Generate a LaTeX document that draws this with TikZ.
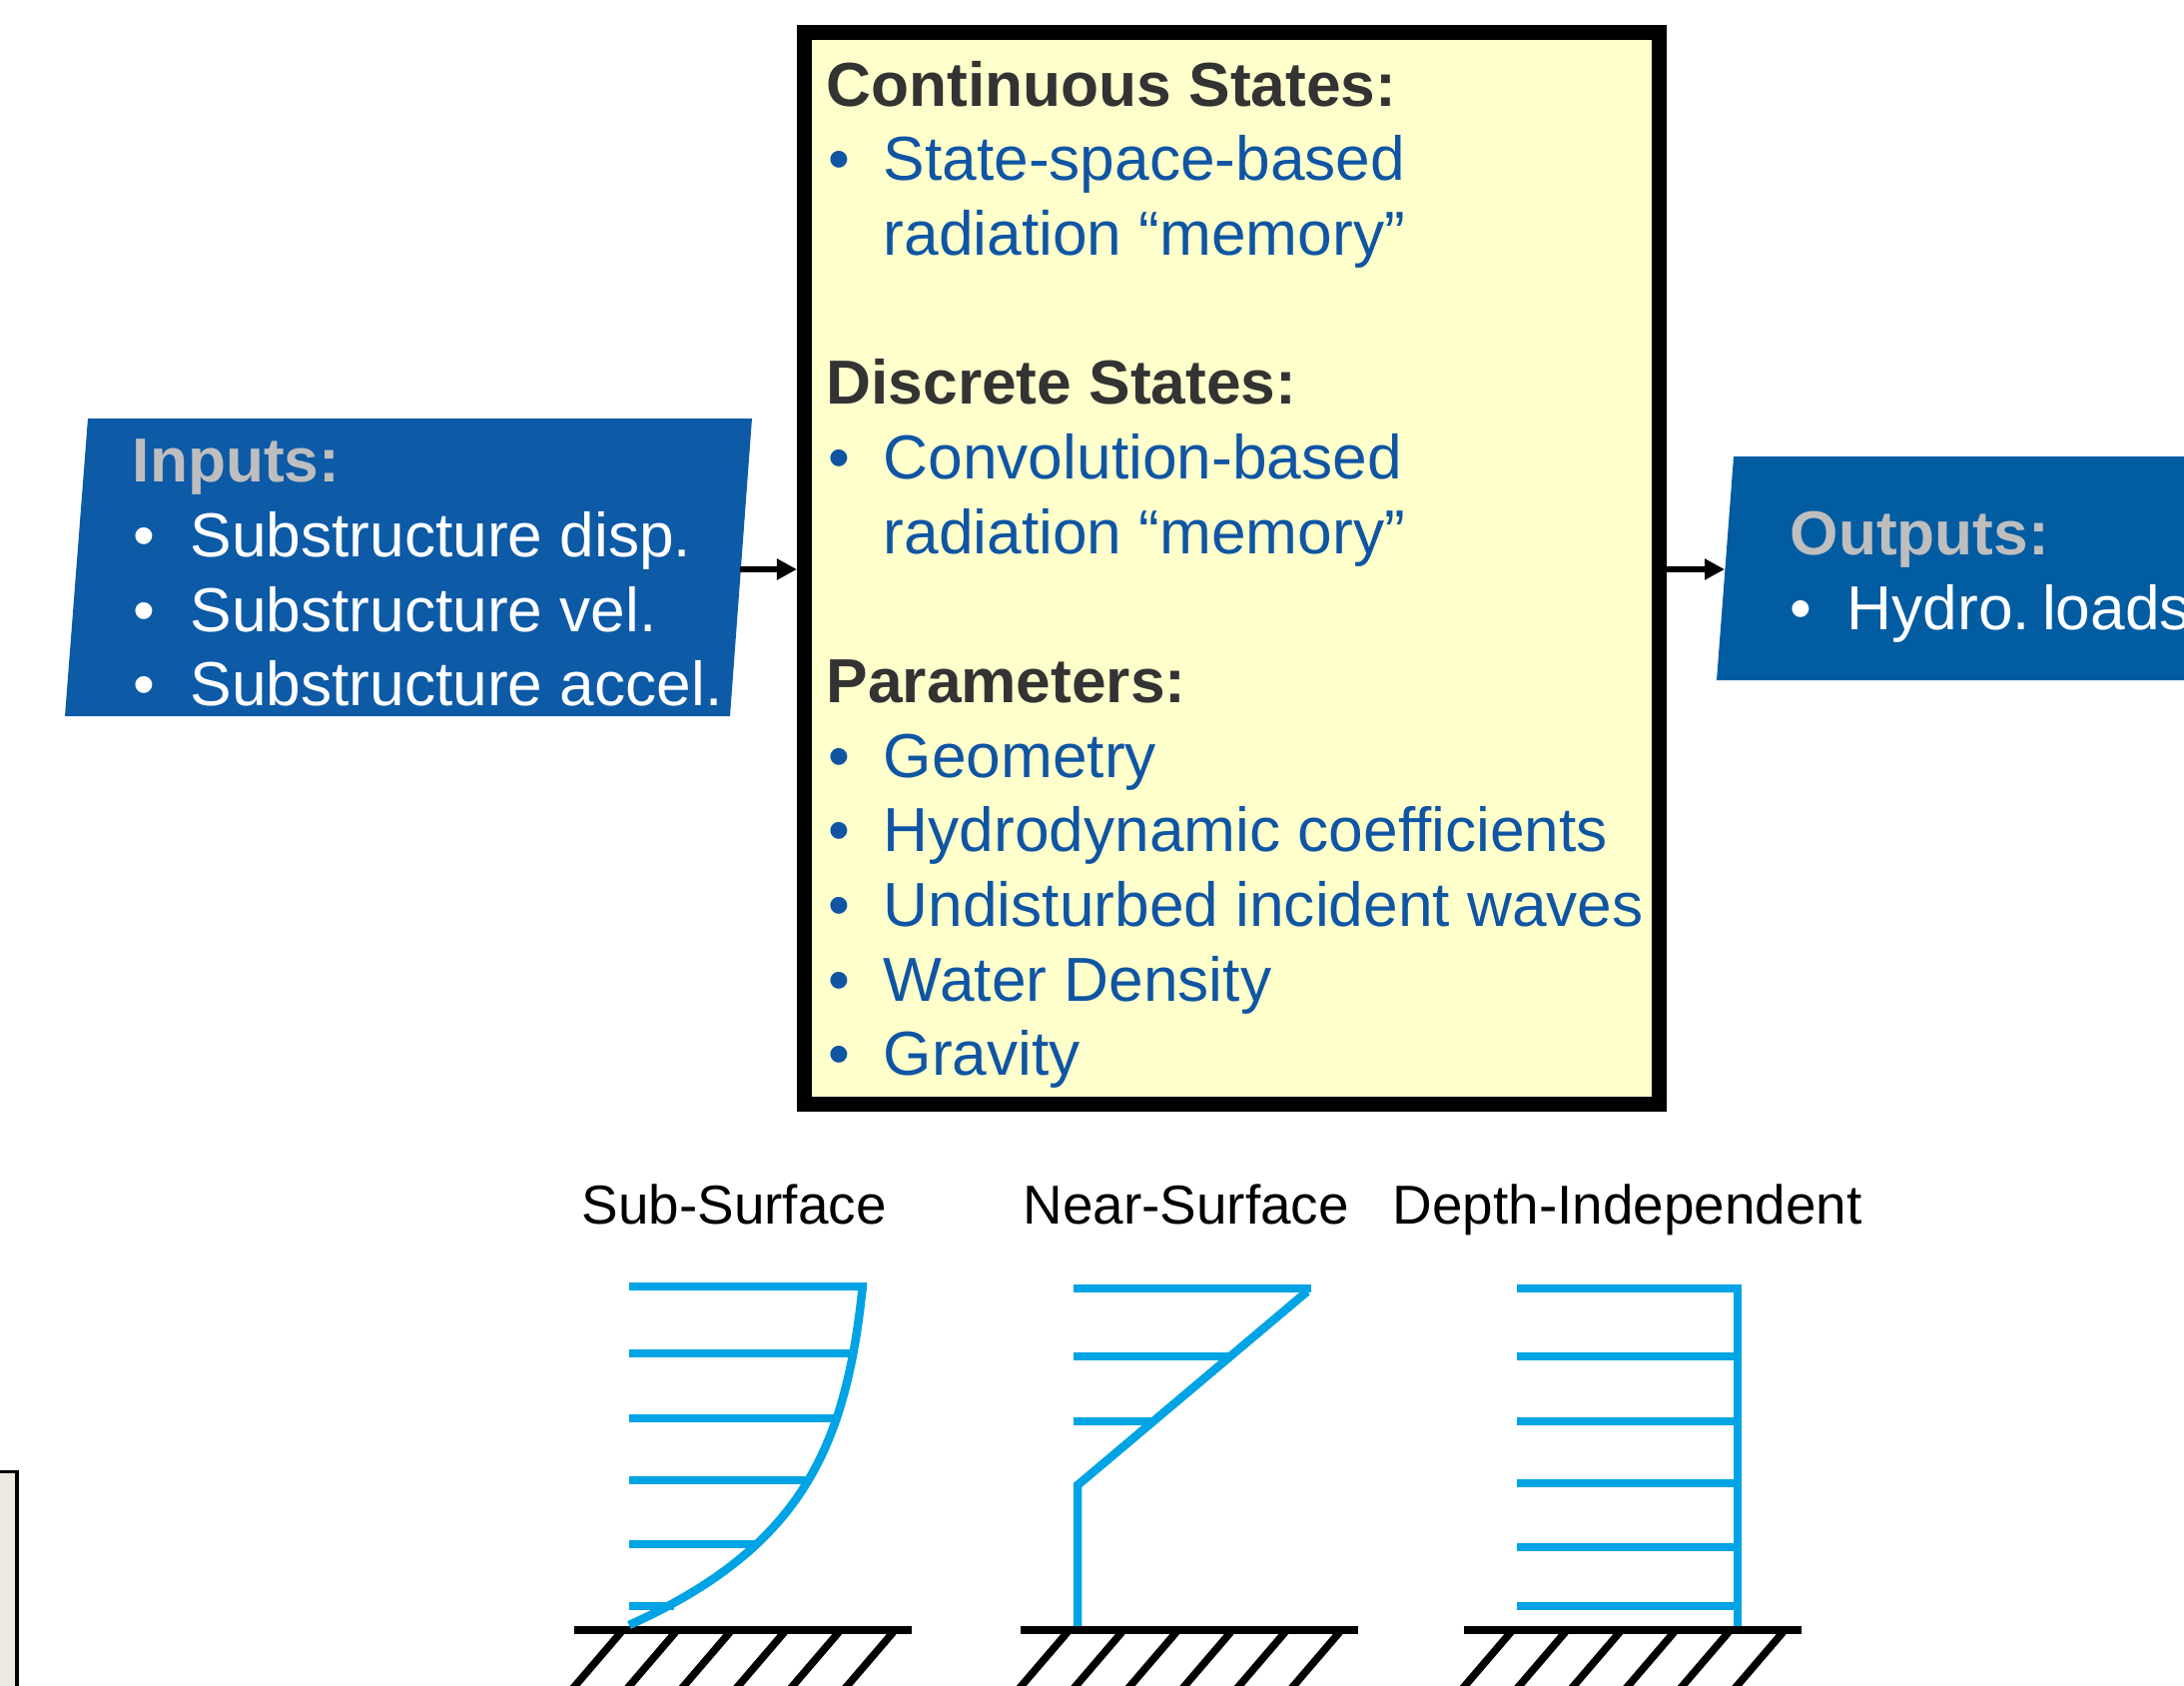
\documentclass[tikz,border=0pt]{standalone}
\usepackage{fontspec}
\setmainfont{Liberation Sans}
\usetikzlibrary{arrows.meta}
\definecolor{inblue}{HTML}{0D5AA7}
\definecolor{outblue}{HTML}{025CA2}
\definecolor{headgray}{HTML}{BEBEBE}
\definecolor{darkhead}{HTML}{333333}
\definecolor{itemblue}{HTML}{0F55A3}
\definecolor{boxyellow}{HTML}{FFFFCC}
\definecolor{profblue}{HTML}{00A3E4}
\definecolor{beige}{HTML}{EDEBE1}
\begin{document}
\begin{tikzpicture}[x=0.01cm,y=-0.01cm,
  txt/.style={inner sep=0pt, anchor=base west, font=\fontsize{17.7}{21}\selectfont},
  head/.style={txt, font=\fontsize{17.7}{21}\selectfont\bfseries, text=darkhead},
  ghead/.style={head, text=headgray},
  item/.style={txt, text=itemblue},
  wtxt/.style={txt, text=white},
  lbl/.style={inner sep=0pt, anchor=base west, font=\fontsize{15.6}{19}\selectfont},
  prof/.style={draw=profblue, line width=0.085cm},
  ground/.style={line width=0.085cm},
  hatch/.style={line width=0.075cm},
  arr/.style={line width=0.06cm, -{Triangle[length=0.2cm,width=0.2cm]}}]
\useasboundingbox (0,0) rectangle (2187,1687);
\clip (0,0) rectangle (2187,1687);

% partial box bottom left
\draw[line width=0.03cm, fill=beige] (-30,1473) rectangle (17,1720);

% inputs
\fill[inblue] (88,419) -- (753,419) -- (731,717) -- (65,717) -- cycle;
\coordinate (inR) at (741,570);
\node[ghead] (inh) at (132,482) {Inputs:};
\node[wtxt] (inb1) at (133,557) {•};
\node[wtxt] (in1) at (190,557) {Substructure disp.};
\node[wtxt] (inb2) at (133,632) {•};
\node[wtxt] (in2) at (190,632) {Substructure vel.};
\node[wtxt] (inb3) at (133,706) {•};
\node[wtxt] (in3) at (190,706) {Substructure accel.};

% outputs
\fill[outblue] (1736,457) -- (2200,457) -- (2200,681) -- (1719,681) -- cycle;
\coordinate (outL) at (1727,570);
\node[ghead] (outh) at (1792,555) {Outputs:};
\node[wtxt] (outb1) at (1792,630) {•};
\node[wtxt] (out1) at (1849,630) {Hydro.\kern-1.5pt\ loads};

% main box
\node[draw=black, fill=boxyellow, line width=0.15cm, minimum width=8.55cm,
      minimum height=10.72cm, inner sep=0pt, anchor=north west] (core) at (798,25) {};

\node[head] (cs) at (827,106.0) {Continuous States:};
\node[item] (csb) at (829,180.7) {•};
\node[item] (cs1) at (884,180.7) {State-space-based};
\node[item] (cs2) at (884,255.4) {radiation “memory”};
\node[head] (ds) at (827,404.7) {Discrete States:};
\node[item] (dsb) at (829,479.4) {•};
\node[item] (ds1) at (884,479.4) {Convolution-based};
\node[item] (ds2) at (884,554.1) {radiation “memory”};
\node[head] (pa) at (827,703.4) {Parameters:};
\node[item] (pab1) at (829,778.1) {•};
\node[item] (pa1) at (884,778.1) {Geometry};
\node[item] (pab2) at (829,852.8) {•};
\node[item] (pa2) at (884,852.8) {Hydrodynamic coefficients};
\node[item] (pab3) at (829,927.5) {•};
\node[item] (pa3) at (884,927.5) {Undisturbed incident waves};
\node[item] (pab4) at (829,1002.2) {•};
\node[item] (pa4) at (884,1002.2) {Water Density};
\node[item] (pab5) at (829,1076.8) {•};
\node[item] (pa5) at (884,1076.8) {Gravity};

% arrows
\draw[arr] (inR) -- (core.west |- inR);
\draw[arr] (core.east |- outL) -- (outL);

% labels
\node[lbl] (l1) at (582,1225) {Sub-Surface};
\node[lbl] (l2) at (1024,1225) {Near-Surface};
\node[lbl] (l3) at (1394,1225) {Depth-Independent};

% ground + hatches
\foreach \gx in {575,1022,1466} {
  \draw[ground] (\gx,1632) -- ++(338,0);
  \foreach \i in {0,...,5}
    \draw[hatch] ({\gx+47+54.5*\i},1634) -- ++(-60,70);
}

% sub-surface profile
\draw[prof] (630,1288) -- (868,1288);
\draw[prof] (630,1355) -- (853,1355);
\draw[prof] (630,1420) -- (835,1420);
\draw[prof] (630,1482) -- (808,1482);
\draw[prof] (630,1546) -- (759,1546);
\draw[prof] (630,1608) -- (675,1608);
\draw[prof] plot[domain=0:338, samples=70, variable=\d]
  ({630+245*(1-exp(-\d/110))}, {1627-\d});

% near-surface profile
\draw[prof] (1075,1290) -- (1313,1290);
\draw[prof] (1075,1358) -- (1232,1358);
\draw[prof] (1075,1423) -- (1156,1423);
\draw[prof] (1079,1628) -- (1079,1487) -- (1309,1293);

% depth-independent profile
\draw[prof] (1519,1290) -- (1740,1290) -- (1740,1628);
\foreach \yy in {1358,1423,1485,1549,1608}
  \draw[prof] (1519,\yy) -- (1740,\yy);
\end{tikzpicture}
\end{document}
